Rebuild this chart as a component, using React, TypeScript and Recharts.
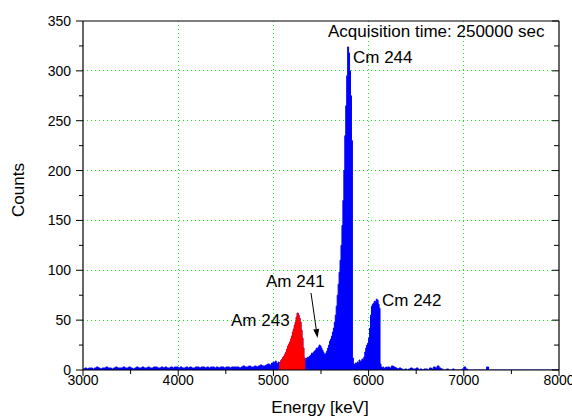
import React from 'react'
import { Area, AreaChart, CartesianGrid, XAxis, YAxis } from 'recharts'

// alpha spectrum, counts per bin; each block starts at its energy (keV)
const lowStart = 3000
const lowBin = 20
const lowCounts = [
  1, 2, 1, 2, 2, 1, 2, 3, 2, 1, 2, 2, 3, 2, 2, 1, 2, 3, 2, 2,
  2, 3, 2, 2, 3, 2, 1, 2, 3, 2, 2, 3, 2, 2, 3, 2, 2, 3, 3, 2,
  2, 3, 2, 3, 2, 2, 3, 2, 3, 3, 2, 3, 2, 2, 3, 2, 3, 2, 2, 3,
  3, 2, 3, 3, 2, 3, 2, 3, 3, 2, 3, 2, 3, 3, 2, 3, 3, 2, 3, 3,
  3, 3, 2, 3, 4, 3, 3, 4, 3, 3, 4, 3, 4, 5, 4, 4, 5, 6, 5, 7,
]

const peakStart = 5000
const peakBin = 10
const peakCounts = [
  8, 6, 9, 7, 6, 8, 6, 8, 10, 11,
  13, 14, 16, 18, 21, 24, 26, 28, 31, 34,
  38, 41, 45, 48, 53, 57, 55, 52, 48, 40,
  32, 22, 12, 10, 12, 11, 13, 12, 14, 15,
  17, 16, 18, 19, 20, 22, 21, 23, 25, 24,
  22, 20, 18, 16, 15, 17, 19, 22, 25, 29,
  31, 34, 38, 42, 48, 55, 64, 75, 86, 98,
  110, 125, 145, 170, 200, 235, 265, 295, 324, 318,
  300, 275, 230, 12, 6, 5, 7, 6, 8, 7,
  10, 8, 9, 11, 10, 13, 18, 22, 25, 27,
  32, 42, 55, 64, 66, 67, 69, 68, 71, 70,
  66, 62, 6, 3, 2, 3, 1, 2, 3, 2,
]

const highStart = 6200
const highBin = 20
const highCounts = [
  3, 2, 4, 3, 2, 1, 2, 1, 0, 1,
  0, 1, 2, 1, 1, 2, 0, 1, 0, 1,
  1, 0, 2, 1, 3, 2, 4, 2, 1, 0,
  0, 1, 0, 0, 1, 0, 0, 0, 0, 1,
  3, 1, 0, 0, 0, 0, 0, 0, 0, 0,
  0, 0, 3, 0, 0, 0, 0, 0, 0, 0,
  0, 0, 0, 0, 0, 0, 0, 0, 0, 0,
  0, 0, 0, 0, 0, 0, 0, 0, 0, 0,
  0, 0, 0, 0, 0, 0, 0, 0, 0, 0,
]
const spectrumEnd = 8000

// Am 243 region shown in red
const am243From = 5060
const am243To = 5330

const energyTicks = [3000, 3500, 4000, 4500, 5000, 5500, 6000, 6500, 7000, 7500, 8000]
const countTicks = [0, 25, 50, 75, 100, 125, 150, 175, 200, 225, 250, 275, 300, 325, 350]
const energyGrid = [4000, 5000, 6000, 7000]
const countGrid = [50, 100, 150, 200, 250, 300]

const rows: { e: number; counts: number; am243: number | null }[] = []
const addBlock = (start: number, bin: number, counts: number[]) =>
  counts.forEach((c, i) => rows.push({ e: start + i * bin, counts: c, am243: null }))
addBlock(lowStart, lowBin, lowCounts)
addBlock(peakStart, peakBin, peakCounts)
addBlock(highStart, highBin, highCounts)
rows.push({ e: spectrumEnd, counts: 0, am243: null })
rows.forEach((r) => {
  if (r.e >= am243From && r.e < am243To) r.am243 = r.counts
  else if (r.e === am243To) r.am243 = 0
})

const font = '"Liberation Sans", Arial, sans-serif'
const gridGreen = '#00ff00'

// snap the dotted grid to whole pixels so the dots stay crisp
const snap = (v: number) => Math.floor(v) + 0.5
const GridLine = (p: any) => {
  const vertical = p.x1 === p.x2
  return (
    <line
      key={p.key}
      x1={vertical ? snap(p.x1) : Math.floor(p.x1)}
      x2={vertical ? snap(p.x2) : p.x2}
      y1={vertical ? Math.floor(p.y1) : snap(p.y1)}
      y2={vertical ? p.y2 : snap(p.y2)}
      stroke={gridGreen}
      strokeWidth={1}
      strokeDasharray="1 3"
      shapeRendering="crispEdges"
      fill="none"
    />
  )
}

const LeftTick = ({ x, y, payload }: any) => {
  const major = payload.value % 50 === 0
  return (
    <g>
      <line x1={x} x2={x - (major ? 7 : 4)} y1={y} y2={y} stroke="#000" />
      {major && (
        <text x={x - 12} y={y} dy="0.36em" textAnchor="end" fontSize={14} fontFamily={font} fill="#000">
          {payload.value}
        </text>
      )}
    </g>
  )
}

const RightTick = ({ x, y, payload }: any) => {
  const major = payload.value % 50 === 0
  return <line x1={x} x2={x - (major ? 7 : 5)} y1={y} y2={y} stroke="#000" />
}

const BottomTick = ({ x, y, payload }: any) => {
  const major = payload.value % 1000 === 0
  return (
    <g>
      <line x1={x} x2={x} y1={y} y2={y + (major ? 6 : 4)} stroke="#000" />
      {major && (
        <text x={x} y={y + 15} textAnchor="middle" fontSize={14} fontFamily={font} fill="#000">
          {payload.value}
        </text>
      )}
    </g>
  )
}

const TopTick = ({ x, y, payload }: any) => {
  const major = payload.value % 1000 === 0
  return <line x1={x} x2={x} y1={y} y2={y + (major ? 6 : 4)} stroke="#000" />
}

const Arrow = ({ x1, y1, x2, y2 }: { x1: number; y1: number; x2: number; y2: number }) => {
  const len = Math.hypot(x2 - x1, y2 - y1)
  const ux = (x2 - x1) / len
  const uy = (y2 - y1) / len
  const bx = x2 - ux * 9
  const by = y2 - uy * 9
  return (
    <g>
      <line x1={x1} y1={y1} x2={bx} y2={by} stroke="#000" strokeWidth={1} />
      <polygon
        points={`${x2},${y2} ${bx - uy * 3},${by + ux * 3} ${bx + uy * 3},${by - ux * 3}`}
        fill="#000"
      />
    </g>
  )
}

export default function App() {
  return (
    <div style={{ position: 'absolute', left: 0, top: 0, width: 572, height: 416, background: '#fff' }}>
      <AreaChart width={572} height={416} data={rows} margin={{ top: 0, right: 0, bottom: 0, left: 0 }}>
        <CartesianGrid
          horizontalValues={countGrid}
          verticalValues={energyGrid}
          horizontal={GridLine}
          vertical={GridLine}
        />
        <XAxis
          dataKey="e"
          type="number"
          domain={[3000, 8000]}
          ticks={energyTicks}
          interval={0}
          height={46}
          tickSize={0}
          tickMargin={0}
          tickLine={false}
          tick={<BottomTick />}
          axisLine={{ stroke: '#000', strokeWidth: 1.2 }}
          allowDataOverflow
        />
        <XAxis
          xAxisId="top"
          orientation="top"
          type="number"
          domain={[3000, 8000]}
          ticks={energyTicks}
          interval={0}
          height={21}
          tickSize={0}
          tickMargin={0}
          tickLine={false}
          tick={<TopTick />}
          axisLine={{ stroke: '#000', strokeWidth: 1.2 }}
          allowDataOverflow
        />
        <YAxis
          type="number"
          domain={[0, 350]}
          ticks={countTicks}
          interval={0}
          width={83}
          tickSize={0}
          tickMargin={0}
          tickLine={false}
          tick={<LeftTick />}
          axisLine={{ stroke: '#000', strokeWidth: 1.2 }}
          allowDataOverflow
        />
        <YAxis
          yAxisId="right"
          orientation="right"
          type="number"
          domain={[0, 350]}
          ticks={countTicks}
          interval={0}
          width={13}
          tickSize={0}
          tickMargin={0}
          tickLine={false}
          tick={<RightTick />}
          axisLine={{ stroke: '#000', strokeWidth: 1.2 }}
          allowDataOverflow
        />
        <Area
          type="stepAfter"
          dataKey="counts"
          stroke="#0000ff"
          strokeWidth={1}
          fill="#0000ff"
          fillOpacity={1}
          dot={false}
          activeDot={false}
          isAnimationActive={false}
        />
        <Area
          type="stepAfter"
          dataKey="am243"
          stroke="#ff0000"
          strokeWidth={1}
          fill="#ff0000"
          fillOpacity={1}
          dot={false}
          activeDot={false}
          connectNulls={false}
          isAnimationActive={false}
        />
      </AreaChart>
      <svg
        width={572}
        height={416}
        style={{ position: 'absolute', left: 0, top: 0, pointerEvents: 'none' }}
        fontFamily={font}
        fill="#000"
      >
        <text x={328} y={37} fontSize={17}>Acquisition time: 250000 sec</text>
        <text x={353} y={63} fontSize={17}>Cm 244</text>
        <text x={382} y={306} fontSize={17}>Cm 242</text>
        <text x={231} y={326} fontSize={17}>Am 243</text>
        <text x={266} y={287} fontSize={17}>Am 241</text>
        <Arrow x1={311} y1={293} x2={317.5} y2={338} />
        <text x={320} y={413} fontSize={17} textAnchor="middle">Energy [keV]</text>
        <text x={24} y={190} fontSize={17} textAnchor="middle" transform="rotate(-90 24 190)">
          Counts
        </text>
      </svg>
    </div>
  )
}
